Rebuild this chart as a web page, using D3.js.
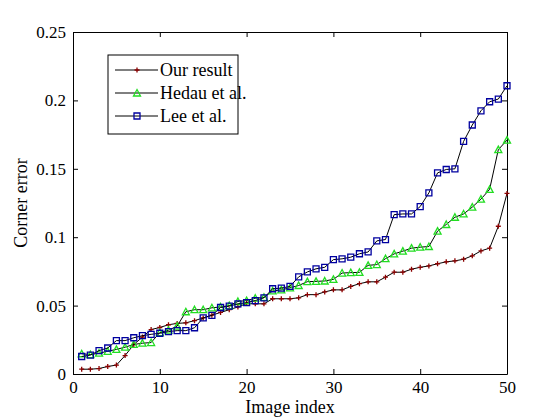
<!DOCTYPE html>
<html>
<head>
<meta charset="utf-8">
<script src="https://cdn.jsdelivr.net/npm/d3@7/dist/d3.min.js"></script>
<style>
  body { margin: 0; background: #fff; }
  svg { display: block; }
  svg text { font-family: "Liberation Serif", "Times New Roman", serif; fill: #000; }
</style>
</head>
<body>
<svg></svg>
<script>
//image index runs 1..50 for every method
var imageIndex = d3.range(1, 51);

//corner error per image, sorted ascending
var ourResult = [0.0035, 0.0035, 0.004, 0.0055, 0.0065, 0.0135, 0.0215, 0.027, 0.0325, 0.034,
                 0.036, 0.037, 0.0374, 0.039, 0.041, 0.043, 0.045, 0.047, 0.049, 0.0515,
                 0.0513, 0.0513, 0.055, 0.055, 0.055, 0.0557, 0.058, 0.058, 0.060, 0.0615,
                 0.0615, 0.064, 0.066, 0.0674, 0.0674, 0.0708, 0.0744, 0.0744, 0.0766, 0.078,
                 0.079, 0.0806, 0.082, 0.0827, 0.0839, 0.0864, 0.090, 0.092, 0.108, 0.132];

var hedau = [0.0148, 0.0142, 0.0152, 0.0166, 0.018, 0.0196, 0.0216, 0.0225, 0.023, 0.0303,
             0.032, 0.035, 0.0455, 0.047, 0.047, 0.0484, 0.049, 0.050, 0.053, 0.0537,
             0.0554, 0.056, 0.0607, 0.0615, 0.063, 0.0647, 0.0675, 0.0677, 0.068, 0.0692,
             0.0738, 0.0741, 0.0743, 0.0794, 0.080, 0.0843, 0.0878, 0.0898, 0.092, 0.0927,
             0.0932, 0.1044, 0.1093, 0.1146, 0.117, 0.122, 0.1278, 0.135, 0.164, 0.171];

var lee = [0.0128, 0.0138, 0.0171, 0.019, 0.0244, 0.0244, 0.0265, 0.028, 0.029, 0.0298,
           0.031, 0.0317, 0.0317, 0.0338, 0.041, 0.0428, 0.0486, 0.0496, 0.0513, 0.0522,
           0.0537, 0.0557, 0.0623, 0.0628, 0.064, 0.071, 0.0746, 0.0769, 0.078, 0.0836,
           0.0842, 0.0854, 0.0879, 0.0892, 0.0973, 0.0983, 0.1165, 0.117, 0.117, 0.1224,
           0.1324, 0.147, 0.1495, 0.150, 0.170, 0.182, 0.1924, 0.199, 0.201, 0.2107];

var seriesNames = ["Our result", "Hedau et al.", "Lee et al."];
var xTicks = [0, 10, 20, 30, 40, 50];
var yTicks = [0, 0.05, 0.1, 0.15, 0.2, 0.25];

drawChart();

function drawChart() {
    var svgWidth = 560, svgHeight = 420;
    var margin = { top: 32, right: 53, bottom: 46, left: 73 };
    var width = svgWidth - margin.left - margin.right;
    var height = svgHeight - margin.top - margin.bottom;

    var svg = d3.select("svg")
        .attr("width", svgWidth)
        .attr("height", svgHeight);

    var g = svg.append("g")
        .attr("transform", "translate(" + margin.left + "," + margin.top + ")");

    var x = d3.scaleLinear().domain([0, 50]).range([0, width]);
    var y = d3.scaleLinear().domain([0, 0.25]).range([height, 0]);

    //matlab style axes: ticks pointing inward on all four sides
    g.append("g")
        .attr("transform", "translate(0," + height + ")")
        .call(d3.axisBottom(x).tickValues(xTicks).tickSizeInner(-5).tickSizeOuter(0)
            .tickPadding(7).tickFormat(d3.format("d")));
    g.append("g")
        .call(d3.axisLeft(y).tickValues(yTicks).tickSizeInner(-5).tickSizeOuter(0)
            .tickPadding(7).tickFormat(function(d) { return d === 0 ? "0" : String(+d.toFixed(2)); }));
    g.append("g")
        .call(d3.axisTop(x).tickValues(xTicks).tickSizeInner(-5).tickSizeOuter(0).tickFormat(""));
    g.append("g")
        .attr("transform", "translate(" + width + ",0)")
        .call(d3.axisRight(y).tickValues(yTicks).tickSizeInner(-5).tickSizeOuter(0).tickFormat(""));

    g.selectAll(".tick text").style("font-size", "17px");
    g.selectAll(".domain, .tick line").attr("stroke", "#000");

    //axis titles
    svg.append("text")
        .attr("x", margin.left + width / 2)
        .attr("y", 413)
        .attr("text-anchor", "middle")
        .style("font-size", "18px")
        .text("Image index");
    svg.append("text")
        .attr("transform", "translate(27," + (margin.top + height / 2) + ") rotate(-90)")
        .attr("text-anchor", "middle")
        .style("font-size", "18px")
        .text("Corner error");

    var series = [
        { name: seriesNames[0], values: ourResult, marker: "plus", color: "#8b0000" },
        { name: seriesNames[1], values: hedau, marker: "triangle", color: "#22dd22" },
        { name: seriesNames[2], values: lee, marker: "square", color: "#0000a0" }
    ];

    var line = d3.line()
        .x(function(d) { return x(d.i); })
        .y(function(d) { return y(d.v); });

    series.forEach(function(s) {
        var pts = imageIndex.map(function(i, k) { return { i: i, v: s.values[k] }; });
        g.append("path")
            .datum(pts)
            .attr("fill", "none")
            .attr("stroke", "#000")
            .attr("stroke-width", 1)
            .attr("d", line);
        g.append("g").selectAll("path")
            .data(pts)
            .enter().append("path")
            .attr("transform", function(d) { return "translate(" + x(d.i) + "," + y(d.v) + ")"; })
            .attr("d", markerPath(s.marker))
            .attr("fill", "none")
            .attr("stroke", s.color)
            .attr("stroke-width", 1.3);
    });

    //legend box
    var legend = svg.append("g").attr("transform", "translate(108,55)");
    legend.append("rect")
        .attr("width", 130)
        .attr("height", 79)
        .attr("fill", "#fff")
        .attr("stroke", "#000");
    series.forEach(function(s, k) {
        var ly = 15 + k * 23;
        legend.append("line")
            .attr("x1", 7).attr("x2", 50)
            .attr("y1", ly).attr("y2", ly)
            .attr("stroke", "#000");
        legend.append("path")
            .attr("transform", "translate(29," + ly + ")")
            .attr("d", markerPath(s.marker))
            .attr("fill", "none")
            .attr("stroke", s.color)
            .attr("stroke-width", 1.3);
        legend.append("text")
            .attr("x", 52)
            .attr("y", ly + 6)
            .style("font-size", "18px")
            .text(s.name);
    });
}

//marker shapes centred on 0,0
function markerPath(type) {
    if (type === "plus") return "M-2.5,0H2.5M0,-2.5V2.5";
    if (type === "triangle") return "M0,-3.5L3.5,3L-3.5,3Z";
    return "M-3,-3H3V3H-3Z";
}
</script>
</body>
</html>
